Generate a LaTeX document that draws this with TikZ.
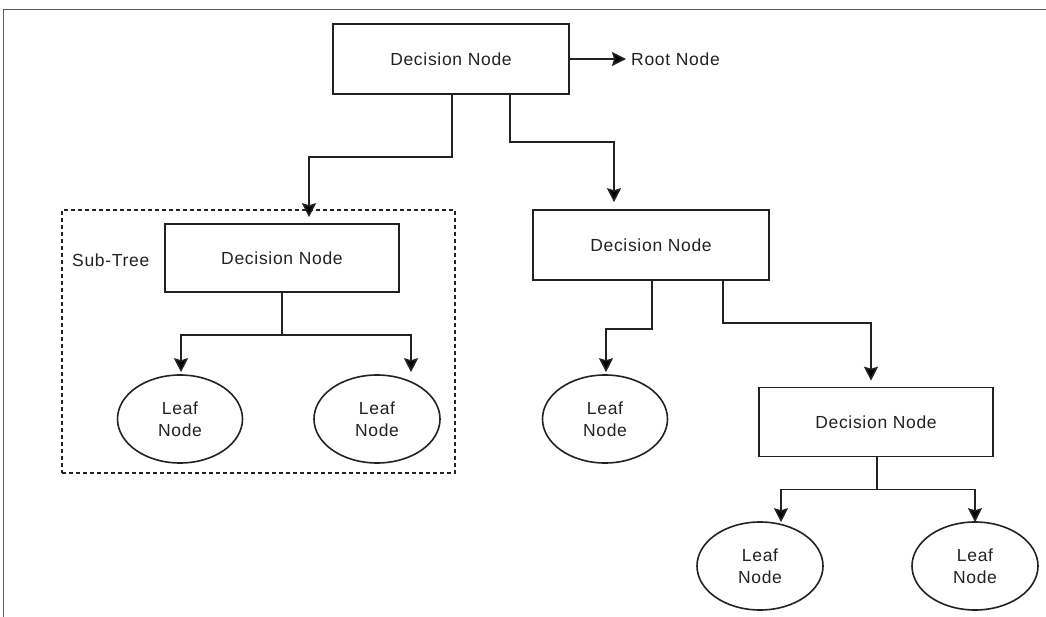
\documentclass[tikz,border=0pt]{standalone}
\usepackage{fontspec}
\setmainfont{Liberation Sans}
\usetikzlibrary{arrows.meta,calc,shapes.geometric}
\definecolor{ink}{HTML}{222222}
\definecolor{framegray}{HTML}{5A5A5A}
\tikzset{
  lbl/.style={font=\fontsize{17.5}{22}\selectfont\addfontfeature{LetterSpace=4}, text=ink},
  dbox/.style={lbl, draw=ink, line width=1.6pt, rectangle, inner sep=0pt,
               minimum width=235pt, minimum height=69pt},
  leaf/.style={lbl, draw=ink, line width=1.6pt, ellipse, inner sep=0pt,
               minimum width=125pt, minimum height=88pt, align=center},
  conn/.style={draw=ink, line width=1.6pt,
               -{Stealth[length=14pt,width=14pt,inset=2pt,fill=black]}},
  plain/.style={draw=ink, line width=1.6pt},
  subbox/.style={draw=ink, line width=1.2pt, dash pattern=on 4pt off 3pt,
                 rectangle, inner sep=0pt},
  framel/.style={draw=framegray, line width=1.8pt}
}
\begin{document}
\begin{tikzpicture}[x=1pt,y=-1pt]
\useasboundingbox (0,0) rectangle (1046,617);
% page frame (top and left edges)
\draw[framel] (3.5,617) -- (3.5,9.5) -- (1046,9.5);

% dashed sub-tree frame
\node[subbox, minimum width=393pt, minimum height=263pt] (sub) at (258.5,341.5) {};
\node[lbl, anchor=west, inner sep=0pt] (subl) at (72,260) {Sub-Tree};

% nodes
\node[dbox, minimum width=236pt, minimum height=70pt] (root) at (451,59) {Decision Node};
\node[lbl, anchor=west, inner sep=0pt] (rootl) at (631,59) {Root Node};
\node[dbox, minimum width=234pt, minimum height=68pt] (dl) at (282,258) {Decision Node};
\node[dbox, minimum width=236pt, minimum height=70pt] (dr) at (651,245) {Decision Node};
\node[dbox, minimum width=234pt] (d3) at (876,422) {Decision Node};

\node[leaf] (l1) at (180,419) {Leaf\\Node};
\node[leaf, minimum width=126pt] (l2) at (377,419) {Leaf\\Node};
\node[leaf] (lm) at (605,419) {Leaf\\Node};
\node[leaf, minimum width=126pt] (l3a) at (760,566) {Leaf\\Node};
\node[leaf, minimum width=126pt] (l3b) at (975,566) {Leaf\\Node};

% connectors
\draw[conn] (root.east) -- ([xshift=-5pt]rootl.west);
\draw[conn] ([xshift=1pt]root.south) -- ++(0,62) -| ($(dl.north)+(27,-6)$);
\draw[conn] ($(root.south)+(59,0)$) -- ++(0,47) -| ($(dr.north)+(-37,-7)$);

\draw[plain] (dl.south) -- ++(0,42) coordinate (jl);
\draw[conn] (jl) -| ($(l1.north)+(1,-2)$);
\draw[conn] (jl) -| ($(l2.north)+(34,-2)$);

\draw[conn] ([xshift=1pt]dr.south) -- ++(0,48) -| ($(lm.north)+(1,-2)$);
\draw[conn] ($(dr.south)+(72,0)$) -- ++(0,42) -| ($(d3.north)+(-5,-6)$);

\draw[plain] ([xshift=1pt]d3.south) -- ++(0,32) coordinate (j3);
\draw[conn] (j3) -| ($(l3a.north)+(21,1)$);
\draw[conn] (j3) -| ($(l3b.north)+(0,1)$);
\end{tikzpicture}
\end{document}
